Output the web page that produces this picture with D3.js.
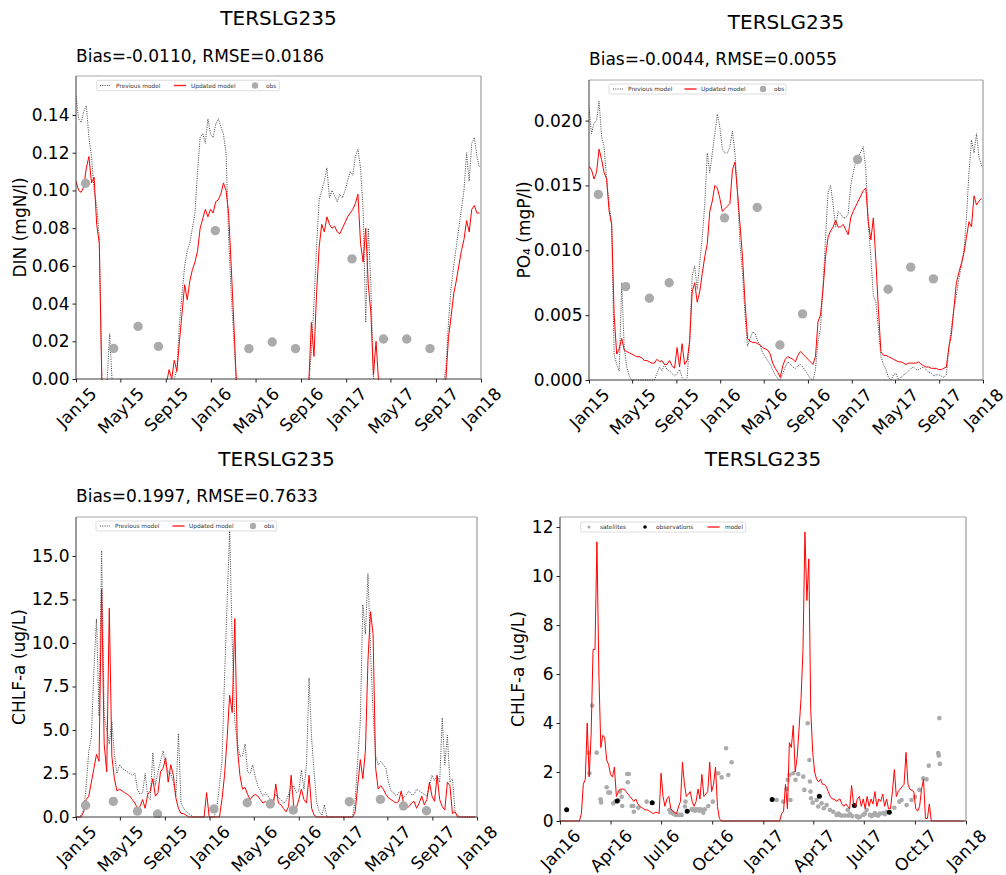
<!DOCTYPE html>
<html>
<head>
<meta charset="utf-8">
<script src="https://cdn.jsdelivr.net/npm/d3@7"></script>
<style>
  body { margin: 0; background: #fff; }
  text { font-family: "DejaVu Sans", sans-serif; }
</style>
</head>
<body>
<svg id="fig" width="1006" height="875"></svg>
<script>
// ---------------------------------------------------------------------------
// Station TERSLG235 — weekly model output (first value on 2015-01-01)
// ---------------------------------------------------------------------------
const stationName = "TERSLG235";
const modelStart = "2015-01-01";

// DIN (mgN/l)
const dinPrevious = [
  0.150, 0.138, 0.136, 0.142, 0.145, 0.128, 0.118, 0.100, 0.092, 0.075, -0.002,
  -0.002, -0.002, 0.024,
  -0.002, -0.002, -0.002, -0.002, -0.002, -0.002, -0.002, -0.002, -0.002, -0.002, -0.002, -0.002,
  -0.002, -0.002, -0.002, -0.002, -0.002, -0.002, -0.002, -0.002, -0.002, -0.002, -0.002, -0.002,
  0.0, 0.005, 0.03, 0.045, 0.06, 0.068, 0.072, 0.08, 0.088, 0.11, 0.128, 0.13, 0.125,
  0.138, 0.13, 0.128, 0.135, 0.138, 0.134, 0.13, 0.12, 0.075, 0.045, 0.022, -0.002,
  -0.002, -0.002, -0.002, -0.002, -0.002, -0.002, -0.002, -0.002, -0.002, -0.002, -0.002, -0.002, -0.002, -0.002,
  -0.002, -0.002, -0.002, -0.002, -0.002, -0.002, -0.002, -0.002, -0.002, -0.002, -0.002, -0.002, -0.002, -0.002,
  0.015, 0.04, 0.07, 0.095, 0.1, 0.105, 0.112, 0.096, 0.1, 0.097, 0.094, 0.098, 0.096,
  0.1, 0.105, 0.11, 0.108, 0.118, 0.122, 0.112, 0.09, 0.03, 0.08, 0.05, 0.0, -0.002,
  -0.002, -0.002, -0.002, -0.002, -0.002, -0.002, -0.002, -0.002, -0.002, -0.002, -0.002, -0.002, -0.002,
  -0.002, -0.002, -0.002, -0.002, -0.002, -0.002, -0.002, -0.002, -0.002, -0.002, -0.002, -0.002, -0.002,
  0.005, 0.03, 0.048, 0.06, 0.07, 0.08, 0.09, 0.1, 0.12, 0.105, 0.125, 0.128, 0.118, 0.112
];
const dinUpdated = [
  0.105, 0.100, 0.099, 0.102, 0.112, 0.118, 0.104, 0.107, 0.082, 0.072, -0.002,
  -0.002, -0.002, -0.002, -0.002, -0.002, -0.002, -0.002, -0.002, -0.002, -0.002, -0.002, -0.002, -0.002,
  -0.002, -0.002, -0.002, -0.002, -0.002, -0.002, -0.002, -0.002, -0.002, -0.002, -0.002, -0.002,
  0.005, 0.0, 0.010, 0.004, 0.020, 0.035, 0.050, 0.042, 0.052, 0.058, 0.062, 0.068, 0.080,
  0.085, 0.090, 0.086, 0.090, 0.088, 0.094, 0.095, 0.098, 0.104, 0.100, 0.088, 0.060, 0.030, -0.002,
  -0.002, -0.002, -0.002, -0.002, -0.002, -0.002, -0.002, -0.002, -0.002, -0.002, -0.002, -0.002, -0.002, -0.002,
  -0.002, -0.002, -0.002, -0.002, -0.002, -0.002, -0.002, -0.002, -0.002, -0.002, -0.002, -0.002, -0.002,
  -0.002, 0.03, 0.012, 0.045, 0.07, 0.082, 0.078, 0.086, 0.082, 0.08, 0.081, 0.078, 0.077, 0.08,
  0.083, 0.086, 0.088, 0.09, 0.093, 0.098, 0.072, 0.062, 0.08, 0.05, 0.035, 0.002, 0.02, -0.002,
  -0.002, -0.002, -0.002, -0.002, -0.002, -0.002, -0.002, -0.002, -0.002, -0.002, -0.002, -0.002, -0.002,
  -0.002, -0.002, -0.002, -0.002, -0.002, -0.002, -0.002, -0.002, -0.002, -0.002, -0.002, -0.002,
  0.0, 0.022, 0.033, 0.045, 0.052, 0.06, 0.068, 0.074, 0.084, 0.078, 0.09, 0.092, 0.088, 0.088
];

// PO4 (mgP/l)
const po4Previous = [
  0.021, 0.019, 0.0198, 0.02, 0.0215, 0.0188, 0.018, 0.0155, 0.0135, 0.012,
  0.002, 0.0012, 0.0007, 0.0075, 0.0025, 0.001, 0.0003, 0.0, 0.0, 0.0,
  0.0, 0.0, 0.0, 0.0, 0.0, 0.0, 0.0, 0.0005, 0.001, 0.0007,
  0.0012, 0.0008, 0.0007, 0.0005, 0.0003, 0.0005, 0.0008, 0.0002, 0.0, 0.0002,
  0.003, 0.008, 0.0088, 0.007, 0.009, 0.011, 0.0135, 0.0175, 0.016, 0.0175,
  0.019, 0.0205, 0.0195, 0.0178, 0.0175, 0.0175, 0.018, 0.0192, 0.0175, 0.0145,
  0.0105, 0.0082, 0.005, 0.0026, 0.0032, 0.0037, 0.0036, 0.003, 0.0027, 0.0021,
  0.0018, 0.0015, 0.0012, 0.0008, 0.0004, 0.0001, 0.0, 0.0005, 0.001, 0.0014,
  0.0012, 0.001, 0.0009, 0.0011, 0.0012, 0.001, 0.0007, 0.0004, 0.0001, 0.0,
  0.0008, 0.003, 0.004, 0.0072, 0.011, 0.0145, 0.015, 0.0135, 0.0118, 0.013,
  0.0128, 0.0125, 0.0125, 0.0128, 0.015, 0.016, 0.0168, 0.0172, 0.0176, 0.018,
  0.0162, 0.012, 0.0095, 0.0065, 0.006, 0.004, 0.0018, 0.0012, 0.0008, 0.0002,
  0.0, 0.0004, 0.0005, 0.0, 0.0002, 0.0004, 0.0005, 0.0007, 0.0009, 0.001,
  0.0008, 0.0008, 0.0009, 0.001, 0.0008, 0.0006, 0.0005, 0.0003, 0.0004, 0.0004,
  0.0003, 0.0002, 0.0004, 0.0025, 0.004, 0.0055, 0.0065, 0.0078, 0.0088, 0.01,
  0.0125, 0.016, 0.0185, 0.0175, 0.019, 0.0172, 0.0165
];
const po4Updated = [
  0.0165, 0.0162, 0.0155, 0.016, 0.0178, 0.017, 0.016, 0.0155, 0.013, 0.012,
  0.005, 0.002, 0.0024, 0.0032, 0.0023, 0.0022, 0.0021, 0.002, 0.0019, 0.0018,
  0.0018, 0.0017, 0.0015, 0.0015, 0.0014, 0.0013, 0.0013, 0.0016, 0.0014, 0.0015,
  0.0012, 0.0012, 0.0015, 0.0011, 0.0009, 0.0025, 0.001, 0.0028, 0.0012, 0.0015,
  0.003, 0.0068, 0.0075, 0.006, 0.0068, 0.0082, 0.0095, 0.0105, 0.013, 0.0138,
  0.015, 0.0148, 0.014, 0.013, 0.0132, 0.0134, 0.0136, 0.0162, 0.0168, 0.0145,
  0.012, 0.0095, 0.006, 0.0032, 0.003, 0.0029, 0.0029, 0.0028, 0.0027, 0.0025,
  0.0024, 0.0023, 0.002, 0.0013, 0.0009, 0.0006, 0.0002, 0.0011, 0.0016, 0.0018,
  0.0017, 0.0016, 0.0014, 0.0019, 0.0022, 0.002, 0.0018, 0.0016, 0.0014, 0.0012,
  0.0018, 0.0045, 0.005, 0.007, 0.0095, 0.011, 0.0115, 0.0118, 0.0123, 0.0118,
  0.0118, 0.012, 0.0116, 0.0112, 0.0125, 0.013, 0.0134, 0.0138, 0.0142, 0.0146,
  0.0148, 0.0122, 0.0108, 0.0125, 0.0092, 0.0055, 0.0022, 0.0019, 0.0019, 0.0018,
  0.0017, 0.0016, 0.0015, 0.0014, 0.0014, 0.0013, 0.0012, 0.0013, 0.0013, 0.0013,
  0.0013, 0.0014, 0.0012, 0.0011, 0.001, 0.001, 0.0009, 0.0009, 0.0009, 0.0008,
  0.0008, 0.0009, 0.001, 0.0025, 0.0035, 0.0055, 0.0075, 0.0083, 0.009, 0.0098,
  0.011, 0.0122, 0.0118, 0.0142, 0.0135, 0.0138, 0.014
];

// Chlorophyll-a (ug/L)
const chlPrevious = [
  0, 0,
  0.1, 0.4, 1.8, 3.8, 4.6, 8.5, 11.4, 5.8, 15.3, 5.8, 5.0, 4.2, 5.5, 3.6, 2.5,
  3.0, 2.8, 2.7, 2.6, 2.5, 2.4, 2.5, 1.6, 1.3, 1.4, 2.5, 1.2, 1.0, 3.7, 1.8,
  2.6, 3.2, 3.8, 3.0, 2.6, 2.5, 2.0, 1.2, 4.8, 0.8, 0.5, 0.3, 0.2, 0.1, 0.0,
  0, 0, 0, 0, 0, 0, 0, 0,
  0.6, 1.8, 3.2, 8.0, 12.3, 16.5, 10.0, 5.5, 4.3, 3.5, 3.5, 4.2, 2.6, 2.5, 3.0,
  2.3, 1.8, 1.5, 1.2, 1.4, 1.2, 1.0, 1.0, 1.3, 1.1, 1.0, 0.8, 0.9, 1.3, 1.7,
  1.8, 1.4, 1.5, 2.7, 1.6, 3.0, 8.0, 4.5, 2.5, 0.8, 0.3, 0.1, 0.7,
  0, 0, 0, 0, 0, 0, 0, 0, 0, 0, 0,
  1.0, 3.3, 5.5, 12.2, 10.5, 14.0, 9.5, 6.0, 3.5, 3.0, 3.2, 3.0, 2.8, 2.0,
  1.5, 1.4, 1.2, 1.4, 1.3, 1.1, 1.3, 1.5, 1.3, 1.3, 1.6, 1.5, 1.4, 1.3, 1.2,
  1.8, 2.4, 2.1, 2.4, 2.0, 5.7, 3.0, 4.7, 2.0, 2.2, 0.3, 0.1, 0.0,
  0, 0, 0, 0, 0, 0
];
const chlUpdated = [
  0, 0, 0,
  0.3, 1.0, 1.2, 2.0, 2.8, 3.6, 3.2, 13.1, 4.2, 2.6, 12.0, 3.5, 2.2, 1.5,
  1.6, 1.5, 1.4, 1.3, 1.2, 1.0, 0.8, 0.5, 0.6, 1.0, 0.5, 1.3, 1.5, 2.2, 1.2,
  1.4, 2.6, 2.8, 3.4, 2.0, 3.0, 2.4, 1.1, 0.5, 0.2, 0.2, 0.1, 0.0,
  0, 0, 0, 0, 0, 0,
  1.4,
  0, 0, 0, 0, 0,
  1.0, 2.4, 4.5, 7.0, 6.0, 11.4, 4.0, 2.4, 1.6, 1.7, 1.3, 1.0, 1.2, 1.3, 1.2,
  1.0, 0.8, 0.9, 0.7, 0.6, 0.6, 1.9, 0.8, 0.7, 0.5, 0.3, 0.6, 2.4, 0.6, 0.5,
  1.0, 1.6, 1.0, 0.8, 2.4, 0.5, 0.1,
  0, 0, 0, 0, 0, 0, 0, 0, 0, 0, 0, 0, 0, 0, 0,
  0.3, 1.8, 3.3, 2.2, 3.8, 9.0, 11.8, 10.5, 2.8, 1.6, 1.8, 1.6, 1.3, 1.1,
  1.0, 0.9, 0.8, 0.9, 1.5, 0.7, 0.5, 0.6, 0.8, 0.9, 0.5, 0.8, 1.2, 0.7, 1.0,
  2.0, 1.2, 0.9, 2.4, 1.0, 0.6, 0.4, 2.0, 1.8, 0.2, 0.3,
  0, 0, 0, 0, 0, 0, 0, 0
];

// In-situ samples
const obsDates = [
  "2015-01-27", "2015-04-13", "2015-06-18", "2015-08-12",
  "2016-01-13", "2016-04-13", "2016-06-15", "2016-08-17",
  "2017-01-17", "2017-04-12", "2017-06-14", "2017-08-16"
];
const obsDin = [0.1038, 0.0162, 0.0279, 0.0173, 0.0787, 0.0161, 0.0196, 0.0161, 0.0637, 0.0212, 0.0212, 0.0161];
const obsPo4 = [0.0143, 0.0072, 0.0063, 0.0075, 0.0125, 0.0133, 0.0027, 0.0051, 0.0170, 0.0070, 0.0087, 0.0078];
const obsChl = [0.67, 0.90, 0.34, 0.17, 0.46, 0.82, 0.75, 0.40, 0.88, 1.01, 0.63, 0.36];

// Chlorophyll-a 2016-2017: model output every 3.5 days (first value on 2016-01-01)
const chlModelStart = "2016-01-01";
const chlModel = [
  0, 0, 0, 0, 0, 0, 0, 0, 0, 0, 0,
  0.3, 1.5, 1.7, 4.0, 1.8, 3.5, 7.0, 7.0, 11.4, 6.0, 3.0, 3.5, 3.4, 2.5, 2.3,
  1.9, 1.8, 2.2, 1.0, 1.2, 1.3, 1.3, 1.3, 1.2, 1.1, 1.0, 0.9, 0.8, 0.9, 0.7,
  0.6, 0.55, 0.5, 0.45, 0.45, 0.4, 0.35, 0.3, 0.35, 0.35, 0.3, 1.95, 1.0, 0.6,
  0.9, 1.0, 0.5, 0.4, 0.35, 0.3, 0.6, 0.8, 2.4, 1.5, 1.0, 1.1, 1.2, 0.8, 0.6,
  0.8, 1.3, 0.9, 1.9, 1.0, 1.1, 1.2, 2.4, 1.2, 1.5, 2.2, 0.6, 0.1, 0.0,
  0, 0, 0, 0, 0, 0, 0, 0, 0, 0, 0, 0, 0, 0, 0, 0, 0, 0, 0, 0, 0, 0, 0, 0, 0, 0, 0, 0, 0,
  0.0, 0.3, 0.4, 1.5, 0.5, 3.2, 3.0, 3.9, 2.0, 2.6, 3.8, 5.0, 7.0, 11.8, 9.0,
  10.7, 4.5, 2.8, 2.0, 1.7, 1.6, 1.7, 1.5, 1.5, 1.4, 1.2, 1.0, 0.9, 0.9, 0.8,
  0.85, 0.9, 0.7, 0.6, 0.7, 0.6, 0.5, 1.45, 0.7, 0.6, 0.9, 1.0, 0.6, 0.9, 0.5,
  1.0, 0.6, 0.9, 0.7, 1.2, 0.6, 0.9, 0.8, 1.1, 0.6, 0.9, 0.5, 0.5, 1.2, 2.1,
  1.0, 1.2, 1.3, 1.4, 1.5, 2.8, 1.5, 1.3, 1.25, 1.2, 0.5, 0.4, 0.6, 1.3, 1.7,
  0.1, 0.1, 0.7, 0.0,
  0, 0, 0, 0, 0, 0, 0, 0, 0, 0, 0, 0, 0, 0, 0, 0, 0
];

// Satellite chlorophyll-a retrievals
const satelliteDates = [
  "2016-02-22", "2016-02-23", "2016-02-28", "2016-03-07", "2016-03-14", "2016-03-15",
  "2016-03-25", "2016-03-28", "2016-03-31", "2016-04-06", "2016-04-10", "2016-04-15",
  "2016-04-18", "2016-04-21", "2016-04-22", "2016-05-01", "2016-05-02", "2016-05-04",
  "2016-05-09", "2016-05-12", "2016-05-13", "2016-05-21", "2016-06-05", "2016-07-16",
  "2016-07-18", "2016-07-20", "2016-07-23", "2016-07-26", "2016-07-28", "2016-07-31",
  "2016-08-04", "2016-08-07", "2016-08-13", "2016-08-14", "2016-08-25", "2016-08-27",
  "2016-08-29", "2016-08-31", "2016-09-02", "2016-09-04", "2016-09-06", "2016-09-08",
  "2016-09-10", "2016-09-12", "2016-09-15", "2016-09-18", "2016-09-24", "2016-10-02",
  "2016-10-12", "2016-10-18", "2016-10-26", "2016-10-30", "2016-11-05",
  "2017-01-25", "2017-02-06", "2017-02-12", "2017-02-14", "2017-02-17", "2017-02-19",
  "2017-02-24", "2017-02-28", "2017-03-05", "2017-03-14", "2017-03-16", "2017-03-22",
  "2017-03-25", "2017-03-26", "2017-03-27", "2017-03-28", "2017-03-31", "2017-04-07",
  "2017-04-10", "2017-04-16", "2017-04-20", "2017-04-25", "2017-05-01", "2017-05-07",
  "2017-05-13", "2017-05-16", "2017-05-19", "2017-05-22", "2017-05-28", "2017-06-02",
  "2017-06-03", "2017-06-06", "2017-06-10", "2017-06-18", "2017-06-21", "2017-06-24",
  "2017-06-30", "2017-07-03", "2017-07-06", "2017-07-12", "2017-07-15", "2017-07-18",
  "2017-07-21", "2017-07-24", "2017-07-27", "2017-07-30", "2017-08-05", "2017-08-08",
  "2017-08-11", "2017-08-25", "2017-09-03", "2017-09-07", "2017-09-16", "2017-09-25",
  "2017-10-01", "2017-10-09", "2017-10-16", "2017-10-22", "2017-10-26", "2017-11-12",
  "2017-11-13", "2017-11-14", "2017-11-15"
];
const satelliteChl = [
  2.79, 1.95, 4.71, 2.79, 0.89, 0.76,
  1.38, 1.16, 1.16, 0.72, 0.80, 0.85,
  1.20, 0.99, 0.61, 1.92, 1.58, 1.92,
  0.61, 0.61, 0.38, 0.54, 0.79, 0.45,
  0.35, 0.38, 0.30, 0.27, 0.25, 0.25,
  0.25, 0.25, 0.59, 0.79, 0.48, 0.45,
  0.48, 0.42, 0.48, 0.45, 0.48, 0.42,
  0.48, 0.45, 0.34, 0.48, 0.61, 0.79,
  1.95, 1.78, 2.97, 1.88, 2.40,
  0.86, 0.79, 1.31, 1.68, 1.88, 0.86,
  1.95, 1.68, 1.92, 1.81, 1.27, 3.99,
  2.49, 1.61, 1.20, 0.93, 0.75, 0.86,
  0.59, 0.72, 0.52, 0.65, 0.45, 0.38,
  0.25, 0.30, 0.25, 0.22, 0.22, 0.45,
  0.22, 0.28, 0.20, 0.20, 0.15, 0.17,
  0.25, 0.30, 0.45, 0.25, 0.20, 0.25,
  0.32, 0.25, 0.22, 0.30, 0.32, 0.28,
  0.38, 0.54, 0.79, 0.86, 0.65, 0.86,
  0.99, 1.27, 1.74, 1.70, 2.26, 2.77,
  2.67, 4.20, 2.33
];

// Axis ticks and annotations
const dinTicks = [0.00, 0.02, 0.04, 0.06, 0.08, 0.10, 0.12, 0.14];
const po4Ticks = [0.000, 0.005, 0.010, 0.015, 0.020];
const chlTicks = [0.0, 2.5, 5.0, 7.5, 10.0, 12.5, 15.0];
const chlModelTicks = [0, 2, 4, 6, 8, 10, 12];
const statsDin = "Bias=-0.0110, RMSE=0.0186";
const statsPo4 = "Bias=-0.0044, RMSE=0.0055";
const statsChl = "Bias=0.1997, RMSE=0.7633";

// ---------------------------------------------------------------------------
const svg = d3.select("#fig");
const parse = d3.timeParse("%Y-%m-%d");
const series = (start, n, hours) => d3.range(n).map(i => d3.timeHour.offset(parse(start), hours * i));
const pair = (dates, vals) => vals.map((v, i) => ({ date: dates[i], value: v }));

const RED = "#ff0000";
const OBS_GREY = "#ababab";
let clipCount = 0;

function drawPanel(cfg) {
  const g = svg.append("g");
  const x = d3.scaleTime().domain(cfg.xDomain).range([cfg.left, cfg.right]);
  const y = d3.scaleLinear().domain([0, cfg.yMax]).range([cfg.bottom, cfg.top]);

  const clipId = "clip" + (clipCount++);
  g.append("clipPath").attr("id", clipId).append("rect")
    .attr("x", cfg.left).attr("y", cfg.top)
    .attr("width", cfg.right - cfg.left).attr("height", cfg.bottom - cfg.top + 1);
  const plot = g.append("g").attr("clip-path", `url(#${clipId})`);

  const line = d3.line().x(d => x(d.date)).y(d => y(d.value));

  cfg.series.forEach(s => {
    if (s.kind === "dotted") {
      plot.append("path").datum(s.data).attr("d", line)
        .attr("fill", "none").attr("stroke", "#2a2a2a")
        .attr("stroke-width", 0.9).attr("stroke-dasharray", "1,1.3");
    } else if (s.kind === "line") {
      plot.append("path").datum(s.data).attr("d", line)
        .attr("fill", "none").attr("stroke", RED).attr("stroke-width", 1);
    } else {
      plot.selectAll(null).data(s.data).join("circle")
        .attr("cx", d => x(d.date)).attr("cy", d => y(d.value))
        .attr("r", s.r).attr("fill", s.color);
    }
  });

  // spines
  g.append("line").attr("x1", cfg.left).attr("x2", cfg.right).attr("y1", cfg.top).attr("y2", cfg.top)
    .attr("stroke", "#a8a8a8").attr("stroke-width", 1);
  g.append("line").attr("x1", cfg.right).attr("x2", cfg.right).attr("y1", cfg.top).attr("y2", cfg.bottom)
    .attr("stroke", "#8a8a8a").attr("stroke-width", 1);
  g.append("line").attr("x1", cfg.left).attr("x2", cfg.left).attr("y1", cfg.top).attr("y2", cfg.bottom)
    .attr("stroke", "#3a3a3a").attr("stroke-width", 1);
  g.append("line").attr("x1", cfg.left).attr("x2", cfg.right).attr("y1", cfg.bottom).attr("y2", cfg.bottom)
    .attr("stroke", "#3a3a3a").attr("stroke-width", 1);

  // y axis
  const ya = g.append("g").attr("transform", `translate(${cfg.left},0)`)
    .call(d3.axisLeft(y).tickValues(cfg.yTicks).tickFormat(d3.format(cfg.yFormat))
      .tickSize(3.5).tickPadding(3).tickSizeOuter(0));
  ya.select(".domain").remove();
  ya.selectAll(".tick line").attr("stroke", "#222");
  ya.selectAll(".tick text").attr("fill", "#000").style("font-size", "17px")
    .style("font-family", "'DejaVu Sans', sans-serif");

  // x axis with labels rotated 45 degrees, centred on the tick
  const xa = g.append("g").attr("transform", `translate(0,${cfg.bottom})`)
    .call(d3.axisBottom(x).ticks(cfg.xInterval).tickFormat(d3.timeFormat("%b%y"))
      .tickSize(3.5).tickSizeOuter(0));
  xa.select(".domain").remove();
  xa.selectAll(".tick line").attr("stroke", "#222");
  xa.selectAll(".tick text").each(function () {
    const t = d3.select(this);
    t.attr("y", null).attr("dy", null).attr("fill", "#000")
      .style("font-size", "17px").style("font-family", "'DejaVu Sans', sans-serif")
      .attr("text-anchor", "middle").attr("dominant-baseline", "central");
    const len = this.getComputedTextLength();
    const h = (len + 13) / Math.SQRT2;
    t.attr("transform", `translate(0,${7 + h / 2}) rotate(-45)`);
  });

  // y label
  g.append("text").attr("transform", `translate(${cfg.yLabelX},${(cfg.top + cfg.bottom) / 2}) rotate(-90)`)
    .attr("text-anchor", "middle").attr("dy", "0.35em").style("font-size", "17px")
    .text(cfg.yLabel);

  // titles
  g.append("text").attr("x", (cfg.left + cfg.right) / 2).attr("y", cfg.titleY)
    .attr("text-anchor", "middle").style("font-size", "20px").text(stationName);
  if (cfg.stats) {
    g.append("text").attr("x", cfg.left).attr("y", cfg.statsY)
      .style("font-size", "17px").text(cfg.stats);
  }

  // legend
  const L = cfg.legend;
  const lg = g.append("g");
  lg.append("rect").attr("x", L.x0).attr("y", L.y0).attr("width", L.x1 - L.x0).attr("height", L.y1 - L.y0)
    .attr("rx", 1.5).attr("fill", "#fff").attr("fill-opacity", 0.85)
    .attr("stroke", "#d4d4d4").attr("stroke-width", 0.8);
  const cy = (L.y0 + L.y1) / 2;
  L.items.forEach(it => {
    if (it.kind === "dotted") {
      lg.append("line").attr("x1", it.hx - 5).attr("x2", it.hx + 5).attr("y1", cy).attr("y2", cy)
        .attr("stroke", "#2a2a2a").attr("stroke-width", 0.9).attr("stroke-dasharray", "1,1.3");
    } else if (it.kind === "line") {
      lg.append("line").attr("x1", it.hx - 6).attr("x2", it.hx + 6).attr("y1", cy).attr("y2", cy)
        .attr("stroke", "#ff2020").attr("stroke-width", 1.4);
    } else {
      lg.append("circle").attr("cx", it.hx).attr("cy", cy).attr("r", it.r).attr("fill", it.color);
    }
    lg.append("text").attr("x", it.tx).attr("y", cy).attr("dy", "0.35em")
      .style("font-size", "5.8px").attr("fill", "#333").text(it.label);
  });
}

const weeks3y = series(modelStart, dinUpdated.length, 168);
const obsT = obsDates.map(parse);
const span3y = [parse("2015-01-01"), parse("2018-01-01")];

drawPanel({
  left: 76, right: 481, top: 76, bottom: 379,
  xDomain: span3y, xInterval: d3.timeMonth.every(4),
  yMax: 0.1607, yTicks: dinTicks, yFormat: ".2f",
  yLabel: "DIN (mgN/l)", yLabelX: 20,
  titleY: 25, stats: statsDin, statsY: 61.5,
  series: [
    { kind: "dotted", data: pair(weeks3y, dinPrevious) },
    { kind: "line", data: pair(weeks3y, dinUpdated) },
    { kind: "dots", data: pair(obsT, obsDin), r: 4.7, color: OBS_GREY }
  ],
  legend: { x0: 96.7, x1: 279.3, y0: 80.3, y1: 90.7, items: [
    { kind: "dotted", hx: 105, tx: 116, label: "Previous model" },
    { kind: "line", hx: 180, tx: 191, label: "Updated model" },
    { kind: "dot", hx: 255, tx: 266, r: 3.2, color: OBS_GREY, label: "obs" }
  ] }
});

drawPanel({
  left: 589, right: 983, top: 80, bottom: 380,
  xDomain: span3y, xInterval: d3.timeMonth.every(4),
  yMax: 0.02313, yTicks: po4Ticks, yFormat: ".3f",
  yLabel: "PO\u2084 (mgP/l)", yLabelX: 524,
  titleY: 29, stats: statsPo4, statsY: 65,
  series: [
    { kind: "dotted", data: pair(weeks3y, po4Previous) },
    { kind: "line", data: pair(weeks3y, po4Updated) },
    { kind: "dots", data: pair(obsT, obsPo4), r: 4.7, color: OBS_GREY }
  ],
  legend: { x0: 609, x1: 786, y0: 84, y1: 94, items: [
    { kind: "dotted", hx: 618, tx: 628, label: "Previous model" },
    { kind: "line", hx: 690.5, tx: 701, label: "Updated model" },
    { kind: "dot", hx: 763, tx: 774, r: 3.2, color: OBS_GREY, label: "obs" }
  ] }
});

drawPanel({
  left: 76, right: 477, top: 517, bottom: 817,
  xDomain: span3y, xInterval: d3.timeMonth.every(4),
  yMax: 17.24, yTicks: chlTicks, yFormat: ".1f",
  yLabel: "CHLF-a (ug/L)", yLabelX: 19,
  titleY: 466, stats: statsChl, statsY: 501.5,
  series: [
    { kind: "dotted", data: pair(weeks3y, chlPrevious) },
    { kind: "line", data: pair(weeks3y, chlUpdated) },
    { kind: "dots", data: pair(obsT, obsChl), r: 4.7, color: OBS_GREY }
  ],
  legend: { x0: 96, x1: 276.7, y0: 521, y1: 531, items: [
    { kind: "dotted", hx: 105, tx: 115, label: "Previous model" },
    { kind: "line", hx: 178.5, tx: 189, label: "Updated model" },
    { kind: "dot", hx: 253, tx: 264, r: 3.2, color: OBS_GREY, label: "obs" }
  ] }
});

const halfWeeks2y = series(chlModelStart, chlModel.length, 84);
drawPanel({
  left: 560, right: 966, top: 517, bottom: 821,
  xDomain: [parse("2016-01-01"), parse("2018-01-01")], xInterval: d3.timeMonth.every(3),
  yMax: 12.41, yTicks: chlModelTicks, yFormat: "d",
  yLabel: "CHLF-a (ug/L)", yLabelX: 518,
  titleY: 466, stats: null,
  series: [
    { kind: "dots", data: pair(satelliteDates.map(parse), satelliteChl), r: 2.3, color: OBS_GREY },
    { kind: "dots", data: pair(obsT.slice(4), obsChl.slice(4)), r: 2.5, color: "#000" },
    { kind: "line", data: pair(halfWeeks2y, chlModel) }
  ],
  legend: { x0: 580.7, x1: 745.7, y0: 522, y1: 532, items: [
    { kind: "dot", hx: 589, tx: 600, r: 1.6, color: OBS_GREY, label: "satellites" },
    { kind: "dot", hx: 645, tx: 656, r: 1.8, color: "#000", label: "observations" },
    { kind: "line", hx: 713.5, tx: 725, label: "model" }
  ] }
});
</script>
</body>
</html>
